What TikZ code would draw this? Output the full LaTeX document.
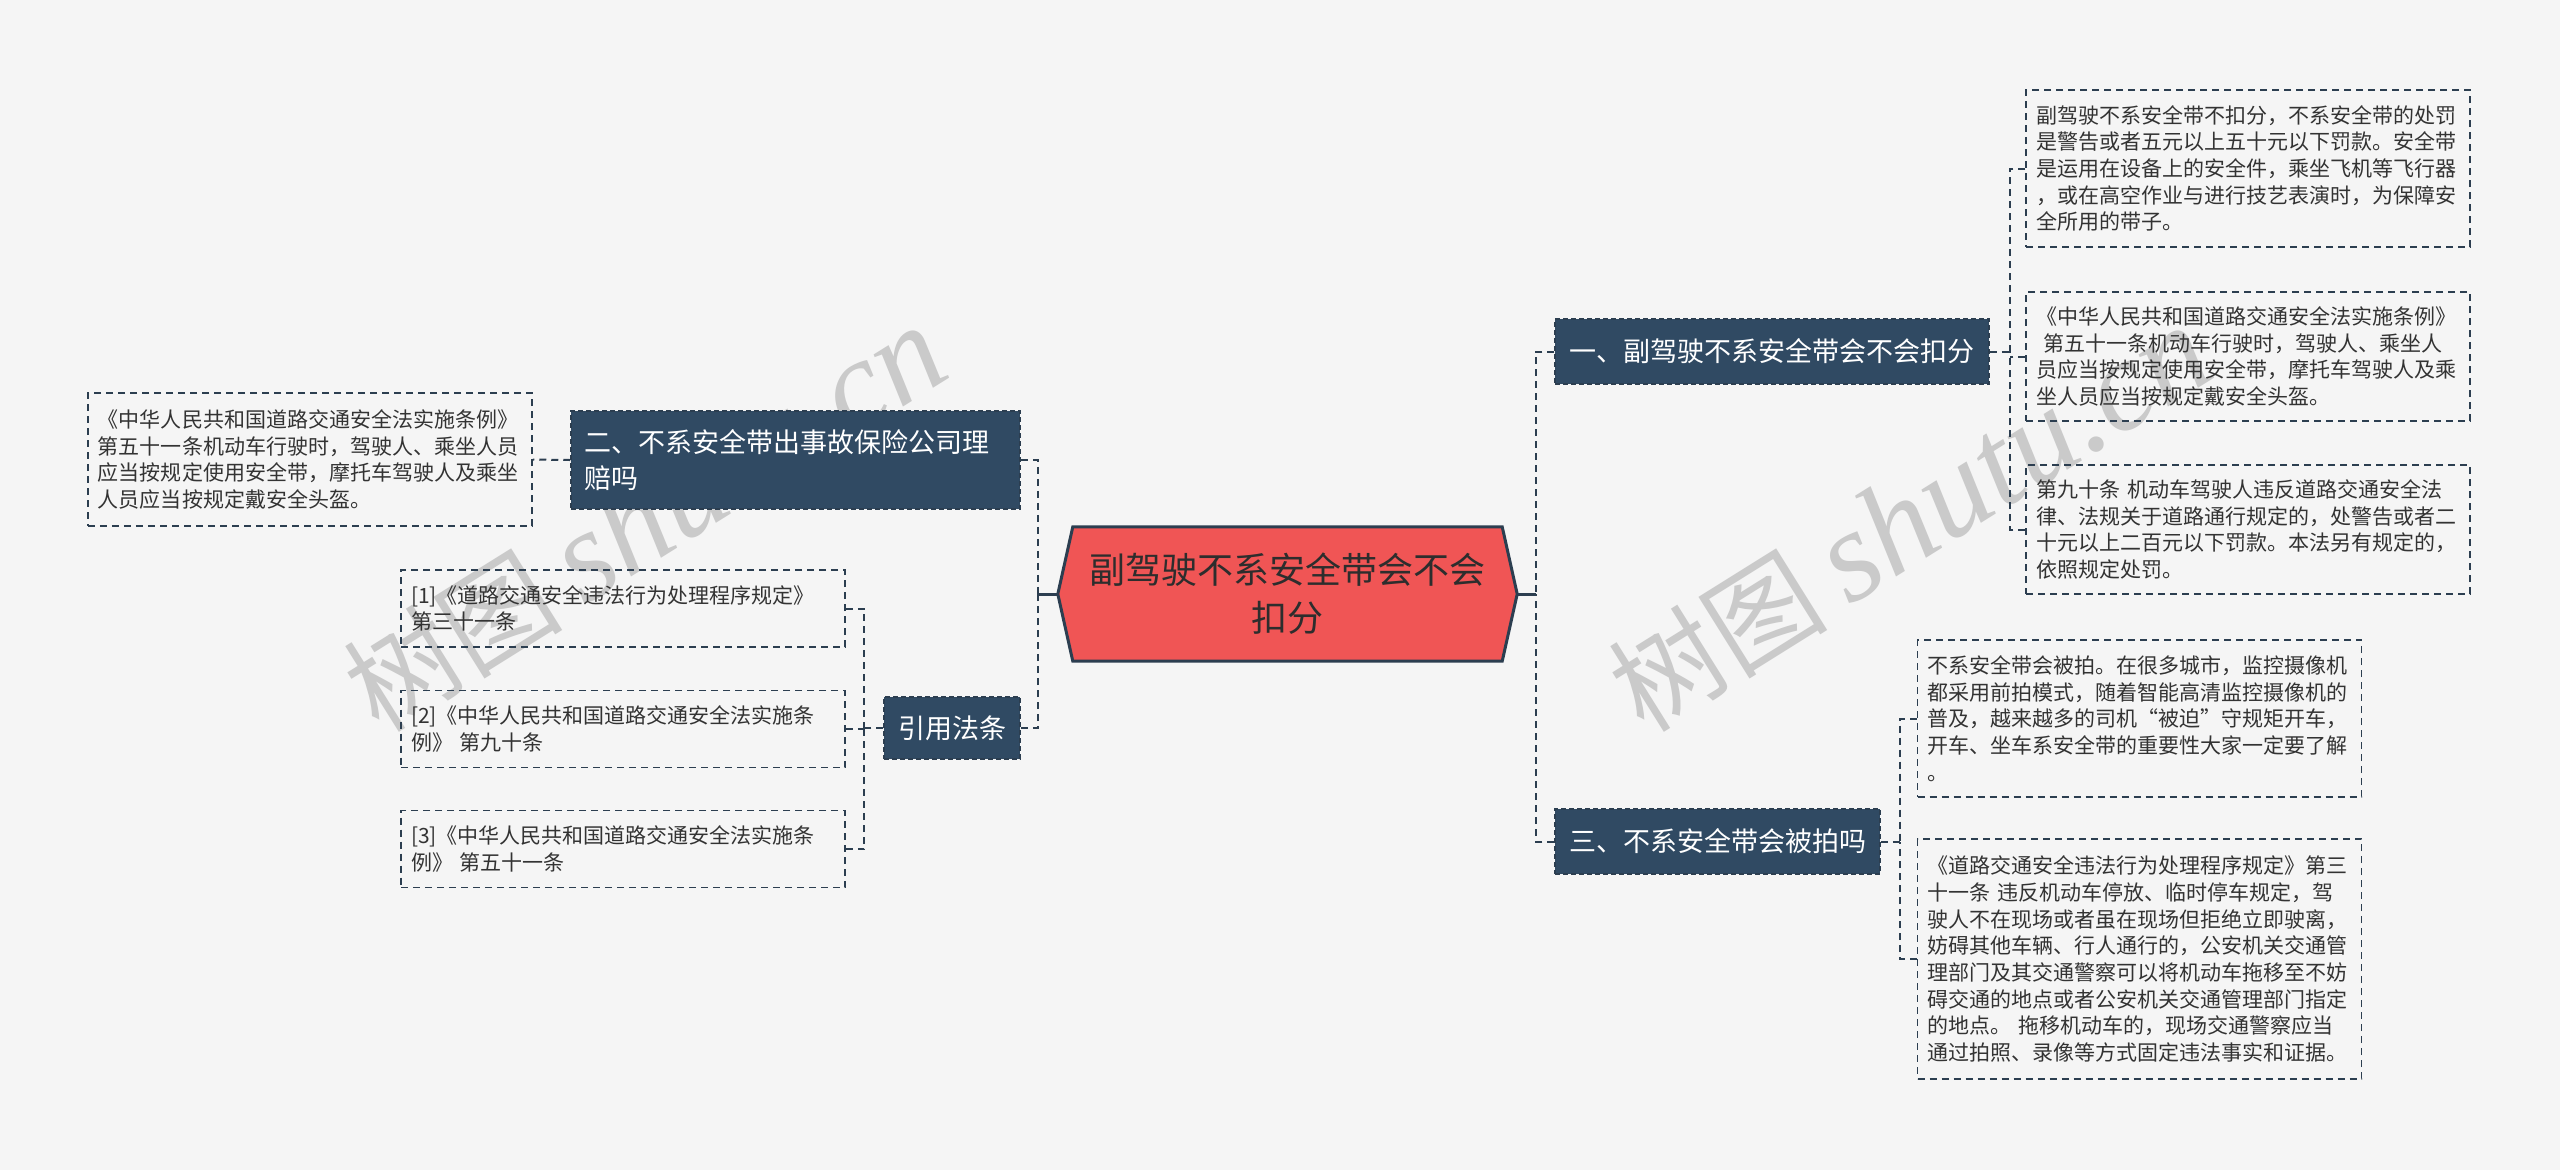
\documentclass[tikz,border=0pt]{standalone}
\usepackage{fontspec}
\setmainfont{Noto Sans CJK SC}
\newfontfamily\wmlatin{Liberation Serif}
\usetikzlibrary{backgrounds}
\definecolor{bgc}{HTML}{F5F5F5}
\definecolor{navy}{HTML}{304A63}
\definecolor{linec}{HTML}{2C3E50}
\definecolor{rootred}{HTML}{F05555}
\definecolor{roottext}{HTML}{2D2D2D}
\definecolor{leaftext}{HTML}{333333}
\definecolor{wmc}{HTML}{CACACA}
\tikzset{
  leaf/.style={draw=linec, line width=1.5bp, dash pattern=on 7bp off 5bp,
    text width=424bp, inner xsep=10bp, inner ysep=0bp, align=left,
    font=\fontsize{21bp}{26.67bp}\selectfont, text=leaftext},
  br/.style={fill=navy, draw=linec, line width=1.5bp, dash pattern=on 5bp off 3bp,
    text=white, font=\fontsize{27bp}{36bp}\selectfont, inner xsep=13bp, inner ysep=0bp},
  conn/.style={draw=linec, line width=2bp, dash pattern=on 7bp off 5bp},
  rootln/.style={draw=linec, line width=3bp},
  wm/.style={text=wmc, rotate=32, inner sep=0bp}
}
\begin{document}
\begin{tikzpicture}[x=1bp,y=-1bp]
\begin{scope}[on background layer]
  \fill[bgc] (0,0) rectangle (2560,1170);
\end{scope}
\useasboundingbox (0,0) rectangle (2560,1170);

% watermarks
\node[wm] (wm1) at (645,519) {\fontsize{110bp}{110bp}\selectfont 树图\hspace{22bp}{\wmlatin\itshape\fontsize{130bp}{130bp}\selectfont shutu.cn}};
\node[wm] (wm2) at (1910,519) {\fontsize{110bp}{110bp}\selectfont 树图\hspace{22bp}{\wmlatin\itshape\fontsize{130bp}{130bp}\selectfont shutu.cn}};

% root
\node[minimum width=459bp, minimum height=134bp, align=center, inner sep=0bp,
      font=\fontsize{36bp}{48bp}\selectfont, text=roottext] (root) at (1287.5,594)
      {副驾驶不系安全带会不会\\扣分};
\begin{scope}[on background layer]
  \path[fill=rootred, draw=linec, line width=3bp, line join=miter]
    (root.west) -- ([xshift=15bp]root.north west) -- ([xshift=-15bp]root.north east)
    -- (root.east) -- ([xshift=-15bp]root.south east) -- ([xshift=15bp]root.south west) -- cycle;
\end{scope}

% branches
\node[br, minimum width=434bp, minimum height=65bp] (b1) at (1772,351.5) {一、副驾驶不系安全带会不会扣分};
\node[br, minimum width=325bp, minimum height=65bp] (b3) at (1717.5,841.5) {三、不系安全带会被拍吗};
\node[br, text width=423bp, align=left, minimum height=98bp] (b2) at (795.5,460) {二、不系安全带出事故保险公司理\\赔吗};
\node[br, minimum width=136bp, minimum height=62bp] (b4) at (952,728) {引用法条};

% leaves right
\node[leaf, minimum height=157bp] (l1) at (2248,168.5)
 {副驾驶不系安全带不扣分，不系安全带的处罚\\是警告或者五元以上五十元以下罚款。安全带\\是运用在设备上的安全件，乘坐飞机等飞行器\\，或在高空作业与进行技艺表演时，为保障安\\全所用的带子。};
\node[leaf, minimum height=129bp] (l2) at (2248,356.5)
 {《中华人民共和国道路交通安全法实施条例》\\\hspace*{7bp}第五十一条机动车行驶时，驾驶人、乘坐人\\员应当按规定使用安全带，摩托车驾驶人及乘\\坐人员应当按规定戴安全头盔。};
\node[leaf, minimum height=129bp] (l3) at (2248,529.5)
 {第九十条 机动车驾驶人违反道路交通安全法\\律、法规关于道路通行规定的，处警告或者二\\十元以上二百元以下罚款。本法另有规定的，\\依照规定处罚。};
\node[leaf, minimum height=157bp] (l4) at (2139.5,718.5)
 {不系安全带会被拍。在很多城市，监控摄像机\\都采用前拍模式，随着智能高清监控摄像机的\\普及，越来越多的司机“被迫”守规矩开车，\\开车、坐车系安全带的重要性大家一定要了解\\。};
\node[leaf, minimum height=240bp] (l5) at (2139.5,959)
 {《道路交通安全违法行为处理程序规定》第三\\十一条 违反机动车停放、临时停车规定，驾\\驶人不在现场或者虽在现场但拒绝立即驶离，\\妨碍其他车辆、行人通行的，公安机关交通管\\理部门及其交通警察可以将机动车拖移至不妨\\碍交通的地点或者公安机关交通管理部门指定\\的地点。 拖移机动车的，现场交通警察应当\\通过拍照、录像等方式固定违法事实和证据。};

% leaves left
\node[leaf, minimum height=133bp] (l6) at (310,459.5)
 {《中华人民共和国道路交通安全法实施条例》\\第五十一条机动车行驶时，驾驶人、乘坐人员\\应当按规定使用安全带，摩托车驾驶人及乘坐\\人员应当按规定戴安全头盔。};
\node[leaf, minimum height=77bp] (r1) at (623,608.5)
 {[1]《道路交通安全违法行为处理程序规定》\\第三十一条};
\node[leaf, minimum height=77bp] (r2) at (623,729)
 {[2]《中华人民共和国道路交通安全法实施条\\例》 第九十条};
\node[leaf, minimum height=77bp] (r3) at (623,849)
 {[3]《中华人民共和国道路交通安全法实施条\\例》 第五十一条};

% junction points
\coordinate (rs) at ([xshift=19bp]root.east);
\coordinate (ls) at ([xshift=-20bp]root.west);
\coordinate (j1) at ([xshift=20bp]b1.east);
\coordinate (j3) at ([xshift=19bp]b3.east);
\coordinate (j4) at ([xshift=-19bp]b4.west);

% connectors root
\draw[rootln] (root.east) -- (rs);
\draw[rootln] (root.west) -- (ls);
\draw[conn] (b1.west) -| (rs);
\draw[conn] (b3.west) -| (rs);
\draw[conn] (b2.east) -| (ls);
\draw[conn] (b4.east) -| (ls);

% branch 1 children
\draw[conn] (b1.east) -- (j1);
\draw[conn] (l1.west) -| (j1);
\draw[conn] (l3.west) -| (j1);
\draw[conn] (l2.west) -- (l2.west -| j1);

% branch 3 children
\draw[conn] (b3.east) -- (j3);
\draw[conn] (l4.west) -| (j3);
\draw[conn] (l5.west) -| (j3);

% branch 2 child
\draw[conn] (b2.west) -- (l6.east);

% refs
\draw[conn] (b4.west) -- (j4);
\draw[conn] (r1.east) -| (j4);
\draw[conn] (r3.east) -| (j4);
\draw[conn] (r2.east) -- (r2.east -| j4);
\end{tikzpicture}
\end{document}
